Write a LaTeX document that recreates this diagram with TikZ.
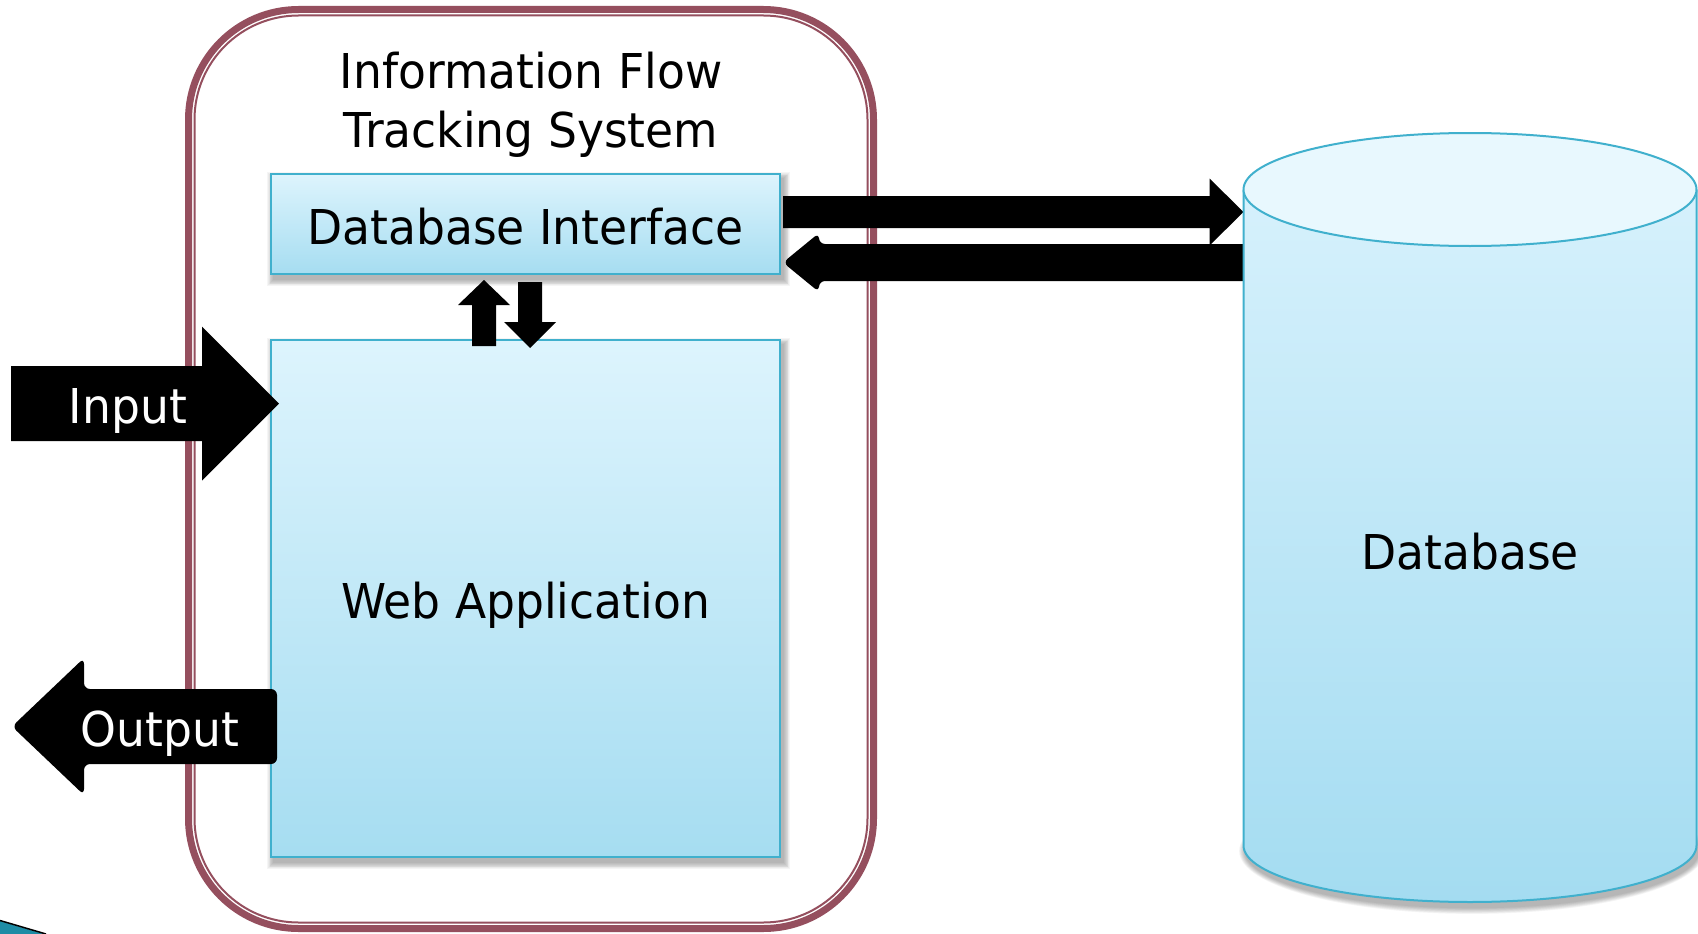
\documentclass[tikz,border=0pt]{standalone}
\usepackage{fontspec}
\newfontfamily\diagfont{DejaVu Sans}[FakeStretch=0.95]
\usetikzlibrary{calc}

\definecolor{framered}{RGB}{149,79,94}
\definecolor{boxline}{RGB}{64,176,205}
\definecolor{boxtop}{RGB}{221,244,253}
\definecolor{boxbot}{RGB}{166,221,241}
\definecolor{cyltopfill}{RGB}{232,248,254}
\definecolor{cylbodytop}{RGB}{214,241,252}
\definecolor{cylbodybot}{RGB}{164,220,241}
\definecolor{decoteal}{RGB}{30,140,165}

% block arrow: [options]{tail}{tip}{shaft half width}{head half width}{head length}
\newcommand\blockarrow[6][]{%
  \coordinate (ba-b) at ($(#3)!#6pt!(#2)$);
  \fill[black,#1] ($(#2)!#4pt!90:(#3)$) -- ($(ba-b)!#4pt!90:(#3)$)
    -- ($(ba-b)!#5pt!90:(#3)$) -- (#3) -- ($(ba-b)!#5pt!-90:(#3)$)
    -- ($(ba-b)!#4pt!-90:(#3)$) -- ($(#2)!#4pt!-90:(#3)$) -- cycle;}

% soft drop shadow behind a rectangular node
\newcommand\softshadow[1]{%
  \foreach \k in {1,...,8}{%
    \fill[black,opacity=0.04] ($(#1.north west)+({3-0.9*\k},{5-0.9*\k})$)
      rectangle ($(#1.south east)+({3+0.9*\k},{5+0.9*\k})$);}}

\begin{document}
\begin{tikzpicture}[x=1pt,y=-1pt,
  every node/.style={font=\diagfont\fontsize{48}{59}\selectfont,
    inner sep=0pt, outer sep=0pt},
  frame/.style={rectangle, draw=framered, line width=7pt, rounded corners=110pt,
    minimum width=685pt, minimum height=919pt},
  boxnode/.style={rectangle, draw=boxline, line width=2pt,
    top color=boxtop, bottom color=boxbot, minimum width=509pt,
    text height=40pt, text depth=0pt},
  cylline/.style={draw=boxline, line width=2pt},
  arrowtext/.style={text=white, anchor=base}]

\useasboundingbox (0,0) rectangle (1698,934);
\fill[white] (0,0) rectangle (1698,934);

% tracking system frame (thick outer line, thin inner line)
\node[frame] (ifts) at (531,469) {};
\draw[framered, line width=2pt, rounded corners=104pt]
  ($(ifts.north west)+(6,6)$) rectangle ($(ifts.south east)+(-6,-6)$);
\node[align=center] (title) at (531,105) {Information Flow\\Tracking System};

% inner components
\node[boxnode, minimum height=100pt] (dbi) at (525.5,224) {};
\node[boxnode, minimum height=517pt] (webapp) at (525.5,598.5) {};
\softshadow{dbi}
\softshadow{webapp}
\node[boxnode, minimum height=100pt] at (dbi) {Database Interface};
\node[boxnode, minimum height=517pt] at (webapp) {Web Application};

% end points on the database side and outside the system
\coordinate (cylA) at (1243.5,212);
\coordinate (cylB) at (1250,262.5);
\coordinate (dbiOut) at ($(dbi.east)+(3,-12)$);
\coordinate (dbiIn) at ($(dbi.east)+(3,38.5)$);
\coordinate (inSrc) at (11,403.5);
\coordinate (inTip) at ($(webapp.north west)+(8,63.5)$);
\coordinate (outSrc) at ($(webapp.north west)+(6,386.5)$);
\coordinate (outDst) at (12,726.5);
\coordinate (upT) at ($(webapp.north)+(-41.5,6)$);
\coordinate (upH) at ($(dbi.south)+(-41.5,6)$);
\coordinate (dnT) at ($(dbi.south)+(4.5,8)$);
\coordinate (dnH) at ($(webapp.north)+(4.5,8)$);

% data flows
\blockarrow{dbiOut}{cylA}{16}{33.5}{34}
\blockarrow[rounded corners=6pt]{cylB}{dbiIn}{18.5}{29.5}{36}
\blockarrow{inSrc}{inTip}{37.5}{77}{77}
\blockarrow[rounded corners=6pt]{outSrc}{outDst}{37.5}{68.5}{72}
\blockarrow{upT}{upH}{12}{26}{25}
\blockarrow{dnT}{dnH}{12}{26}{26}
\node[arrowtext] (inT) at (128,423) {Input};
\node[arrowtext] (outT) at (160,746) {Output};

% database cylinder
\foreach \k in {1,...,8}{%
  \fill[black,opacity=0.04] (1472,851) ellipse[x radius={226.5+0.8*\k}, y radius={56.5+0.8*\k}];}
\path[top color=cylbodytop, bottom color=cylbodybot]
  (1243.5,189.5) -- (1243.5,845.5) arc[start angle=180, end angle=0, x radius=226.5, y radius=56.5]
  -- (1696.5,189.5) -- cycle;
\draw[cylline] (1243.5,189.5) -- (1243.5,845.5)
  arc[start angle=180, end angle=0, x radius=226.5, y radius=56.5] -- (1696.5,189.5);
\filldraw[cylline, fill=cyltopfill] (1470,189.5) ellipse[x radius=226.5, y radius=56.5];
\node[anchor=base] (db) at (1470,569) {Database};

% corner ornament
\fill[decoteal] (0,921) -- (44,934) -- (0,934) -- cycle;
\draw[black, line width=1.5pt] (0,920.5) -- (46,934);
\end{tikzpicture}
\end{document}
